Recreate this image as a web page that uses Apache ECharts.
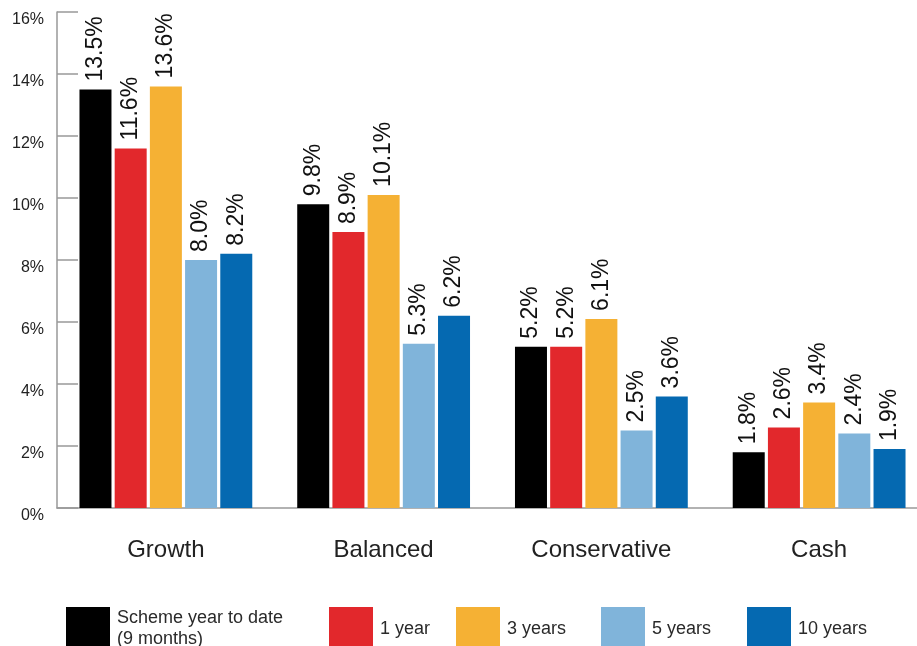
<!DOCTYPE html>
<html><head><meta charset="utf-8">
<script src="https://cdn.jsdelivr.net/npm/echarts@6/dist/echarts.min.js"></script>
<style>html,body{margin:0;padding:0;background:#fff;overflow:hidden}#c{width:930px;height:646px}</style>
</head><body><div id="c"></div>
<script>
const categories = ['Growth', 'Balanced', 'Conservative', 'Cash'];
const seriesNames = ['Scheme year to date (9 months)', '1 year', '3 years', '5 years', '10 years'];
const schemeYTD = [13.5, 9.8, 5.2, 1.8];
const oneYear = [11.6, 8.9, 5.2, 2.6];
const threeYears = [13.6, 10.1, 6.1, 3.4];
const fiveYears = [8.0, 5.3, 2.5, 2.4];
const tenYears = [8.2, 6.2, 3.6, 1.9];
const yTicks = [0, 2, 4, 6, 8, 10, 12, 14, 16];

const values = [schemeYTD, oneYear, threeYears, fiveYears, tenYears];
const colors = ['#000000', '#e2282c', '#f5b134', '#80b4da', '#0569b1'];
const legendLefts = [66, 329, 456, 601, 747];
const font = 'Arial, "Liberation Sans", Helvetica, sans-serif';

const chart = echarts.init(document.getElementById('c'));
chart.setOption({
  animation: false,
  grid: { left: 57, width: 871, top: 12, height: 496, containLabel: false },
  legend: seriesNames.map((n, i) => ({
    data: [n],
    left: legendLefts[i],
    top: 607,
    padding: 0,
    itemWidth: 44,
    itemHeight: 44,
    icon: 'rect',
    selectedMode: false,
    formatter: i === 0 ? () => 'Scheme year to date\n(9 months)' : '{name}',
    textStyle: { fontFamily: font, fontSize: 18, color: '#2a2a2a', lineHeight: 21, padding: [0, 0, 0, 2] }
  })),
  xAxis: {
    type: 'category',
    data: categories,
    axisLine: { show: true, lineStyle: { color: '#999', width: 1.5 } },
    axisTick: { show: false },
    axisLabel: { fontFamily: font, fontSize: 24, color: '#222', margin: 30 }
  },
  yAxis: {
    type: 'value',
    min: yTicks[0],
    max: yTicks[yTicks.length - 1],
    interval: 2,
    splitLine: { show: false },
    axisLine: { show: true, lineStyle: { color: '#999', width: 1.5 } },
    axisTick: { show: true, inside: true, length: 21, lineStyle: { color: '#999', width: 1.5 } },
    axisLabel: {
      fontFamily: font, fontSize: 16, color: '#222', margin: 13,
      verticalAlign: 'top', formatter: v => v + '%'
    }
  },
  series: seriesNames.map((n, i) => ({
    name: n,
    type: 'bar',
    data: values[i],
    barWidth: 32,
    barGap: '10%',
    itemStyle: { color: colors[i] },
    label: {
      show: true,
      position: 'top',
      rotate: 90,
      align: 'left',
      verticalAlign: 'middle',
      distance: 8,
      fontFamily: font,
      fontSize: 23,
      color: '#111',
      formatter: p => p.value.toFixed(1) + '%'
    }
  }))
});
</script></body></html>
